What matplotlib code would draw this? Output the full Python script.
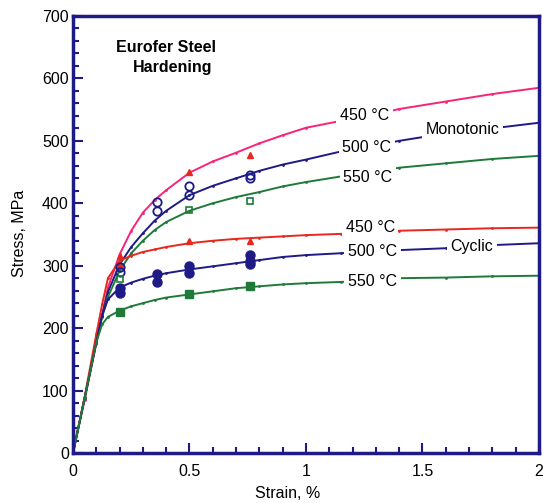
import matplotlib
matplotlib.use("Agg")
import matplotlib.pyplot as plt
from matplotlib.ticker import MultipleLocator

plt.rcParams['font.family'] = ['Liberation Sans', 'DejaVu Sans']

# strain grid (%) shared by all fitted curves
strain = [0, 0.05, 0.1, 0.125, 0.15, 0.2, 0.25, 0.3, 0.35, 0.4, 0.5, 0.6,
          0.7, 0.8, 0.9, 1.0, 1.15, 1.3, 1.4, 1.6, 1.8, 2.0]

# monotonic curves (MPa)
mono_450 = [0, 85, 175, 222, 265, 318, 356, 385, 405, 421, 449, 467,
            481, 496, 509, 521, 532, 543, 551, 563, 575, 585]
mono_500 = [0, 88, 178, 220, 258, 302, 330, 352, 372, 388, 413, 428,
            440, 452, 462, 470, 483, 493, 500, 512, 520, 529]
mono_550 = [0, 88, 178, 218, 250, 292, 320, 340, 357, 370, 388, 400,
            410, 418, 427, 434, 443, 451, 457, 464, 471, 476]

# cyclic curves (MPa)
cyc_450 = [0, 90, 190, 238, 280, 308, 316, 322, 326, 330, 336, 340,
           343, 345, 347, 349, 351, 354, 356, 358, 360, 361]
cyc_500 = [0, 88, 177, 220, 246, 265, 273, 279, 284, 288, 294, 299,
           304, 309, 314, 317, 320, 323, 325, 328, 333, 336]
cyc_550 = [0, 88, 177, 206, 218, 228, 235, 240, 245, 249, 254, 259,
           264, 267, 270, 272, 274, 277, 280, 281, 283, 284]

# measured points
m450_x = [0.2, 0.5, 0.76]
m450_y = [316, 450, 478]
c450_x = [0.2, 0.5, 0.76]
c450_y = [301, 339, 339]
m500_x = [0.2, 0.2, 0.36, 0.36, 0.5, 0.5, 0.76, 0.76]
m500_y = [298, 290, 402, 388, 427, 414, 445, 440]
m550_x = [0.2, 0.5, 0.76]
m550_y = [279, 390, 403]
c500_x = [0.2, 0.2, 0.36, 0.36, 0.5, 0.5, 0.76, 0.76, 0.76]
c500_y = [265, 256, 286, 274, 299, 289, 317, 307, 302]
c550_x = [0.2, 0.5, 0.76]
c550_y = [226, 255, 268]

PINK = '#f7247a'
NAVY = '#1e1a86'
GREEN = '#1f7a3a'
RED = '#e8271f'

fig = plt.figure(figsize=(5.43, 5.03), dpi=100)
ax = fig.add_axes([0.1344, 0.0994, 0.8582, 0.8688])

# fitted curves
for ys, c in [(mono_450, PINK), (mono_500, NAVY), (mono_550, GREEN),
              (cyc_450, RED), (cyc_500, NAVY), (cyc_550, GREEN)]:
    ax.plot(strain, ys, color=c, lw=1.4, marker='.', ms=2, zorder=2)

# test points
ax.plot(m450_x, m450_y, '^', color=RED, ms=5, ls='none', zorder=3)
ax.plot(c450_x, c450_y, '^', color=RED, ms=5, ls='none', zorder=3)
ax.plot(m500_x, m500_y, 'o', color=NAVY, mfc='none', mew=1.3, ms=6, ls='none', zorder=3)
ax.plot(m550_x, m550_y, 's', color=GREEN, mfc='none', mew=1.2, ms=4.5, ls='none', zorder=3)
ax.plot(c500_x, c500_y, 'o', color=NAVY, ms=6.5, ls='none', zorder=3)
ax.plot(c550_x, c550_y, 's', color=GREEN, ms=5.5, ls='none', zorder=3)

# curve labels
box = dict(facecolor='white', edgecolor='none', pad=2.5)
labels = [
    (1.146, 540, '450 °C'), (1.155, 490, '500 °C'), (1.16, 442, '550 °C'),
    (1.515, 518, 'Monotonic'),
    (1.17, 362, '450 °C'), (1.18, 322, '500 °C'), (1.18, 274, '550 °C'),
    (1.62, 330, 'Cyclic'),
]
for x, y, s in labels:
    ax.text(x, y, s, fontsize=11.5, ha='left', va='center', bbox=box, zorder=4)

ax.text(0.185, 650, 'Eurofer Steel', fontsize=11.5, fontweight='bold',
        ha='left', va='center')
ax.text(0.258, 617, 'Hardening', fontsize=11.5, fontweight='bold',
        ha='left', va='center')

ax.set_xlim(0, 2)
ax.set_ylim(0, 700)
ax.xaxis.set_major_locator(MultipleLocator(0.5))
ax.xaxis.set_minor_locator(MultipleLocator(0.1))
ax.yaxis.set_major_locator(MultipleLocator(100))
ax.yaxis.set_minor_locator(MultipleLocator(20))
ax.set_xticks([0, 0.5, 1, 1.5, 2])
ax.set_xticklabels(['0', '0.5', '1', '1.5', '2'])

ax.tick_params(which='both', direction='in', color=NAVY, width=1.5,
               top=False, right=False, labelsize=11.5)
ax.tick_params(which='major', length=7)
ax.tick_params(which='minor', length=4)
ax.tick_params(axis='x', pad=8)
ax.tick_params(axis='y', pad=3)

for sp in ax.spines.values():
    sp.set_color(NAVY)
    sp.set_linewidth(2.5)

ax.set_xlabel('Strain, %', fontsize=11.5)
ax.set_ylabel('Stress, MPa', fontsize=11.5)
ax.xaxis.set_label_coords(0.46, -0.076)
ax.yaxis.set_label_coords(-0.099, 0.503)

fig.savefig('out.png', dpi=100)
